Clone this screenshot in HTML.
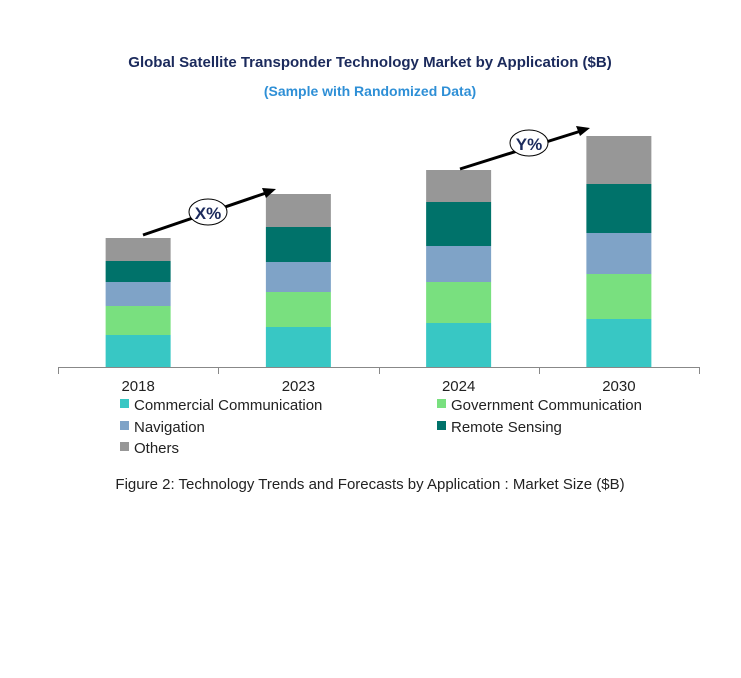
<!DOCTYPE html>
<html><head><meta charset="utf-8"><style>
body{margin:0;background:#fff;width:741px;height:673px;overflow:hidden}
svg text{font-family:"Liberation Sans",Arial,sans-serif}
</style></head><body>
<svg width="741" height="673">
<text x="370" y="67" text-anchor="middle" font-size="15" font-weight="bold" fill="#1b2a5c">Global Satellite  Transponder Technology Market by Application ($B)</text>
<text x="370" y="96" text-anchor="middle" font-size="14" font-weight="bold" fill="#2e8fd6">(Sample with Randomized Data)</text>
<g id="bars"></g>
<line x1="58" y1="367.5" x2="699" y2="367.5" stroke="#888" stroke-width="1"/>
<g id="ticks"></g>
<g>
<line x1="143" y1="235" x2="266" y2="193" stroke="#000" stroke-width="3"/>
<polygon points="276,189 262,188 266,198" fill="#000"/>
<ellipse cx="208" cy="212" rx="19" ry="13" fill="#fff" stroke="#000"/>
<text x="208" y="219" text-anchor="middle" font-size="17" font-weight="bold" fill="#1b2a5c">X%</text>
</g>
<g>
<line x1="460" y1="169" x2="581" y2="131" stroke="#000" stroke-width="3"/>
<polygon points="590,128 576,126 580,136" fill="#000"/>
<ellipse cx="529" cy="143" rx="19" ry="13" fill="#fff" stroke="#000"/>
<text x="529" y="150" text-anchor="middle" font-size="17" font-weight="bold" fill="#1b2a5c">Y%</text>
</g>
<g id="legend" font-size="15" fill="#222"></g>
<text x="370" y="489" text-anchor="middle" font-size="15" fill="#222">Figure 2: Technology  Trends  and Forecasts by Application : Market Size ($B)</text>
</svg>
<script>
const categories=["2018","2023","2024","2030"];
const seriesNames=["Commercial Communication","Government Communication","Navigation","Remote Sensing","Others"];
const colors=["#38c7c4","#79e07f","#7fa3c7","#00726a","#979797"];
const commercial=[3.2,4.0,4.4,4.8];
const government=[2.9,3.5,4.1,4.5];
const navigation=[2.4,3.0,3.6,4.1];
const remoteSensing=[2.1,3.5,4.4,4.9];
const others=[2.3,3.3,3.2,4.8];
const series=[commercial,government,navigation,remoteSensing,others];
const ns="http://www.w3.org/2000/svg";
const baseY=367, pxPerUnit=10, x0=58, x1=699, barW=65;
const band=(x1-x0)/categories.length;
const xCenter=i=>x0+band*(i+0.5);
const yScale=v=>v*pxPerUnit;
const bars=document.getElementById('bars');
categories.forEach((c,i)=>{
  let acc=0;
  series.forEach((s,k)=>{
    const r=document.createElementNS(ns,'rect');
    const h=yScale(s[i]);
    r.setAttribute('x',xCenter(i)-barW/2);
    r.setAttribute('y',baseY-yScale(acc)-h);
    r.setAttribute('width',barW);
    r.setAttribute('height',h);
    r.setAttribute('fill',colors[k]);
    
    
    bars.appendChild(r);
    acc+=s[i];
  });
});
const ticks=document.getElementById('ticks');
for(let i=0;i<=categories.length;i++){
  const l=document.createElementNS(ns,'line');
  const x=Math.round(x0+band*i)+0.5;
  l.setAttribute('x1',x);l.setAttribute('x2',x);l.setAttribute('y1',367);l.setAttribute('y2',374);
  l.setAttribute('stroke','#888');
  
  
  ticks.appendChild(l);
}
categories.forEach((c,i)=>{
  const t=document.createElementNS(ns,'text');
  t.setAttribute('x',xCenter(i));t.setAttribute('y',391);
  t.setAttribute('text-anchor','middle');t.setAttribute('font-size','15');t.setAttribute('fill','#222');
  t.textContent=c;
  
  
  ticks.appendChild(t);
});
const legend=document.getElementById('legend');
const pos=[[120,406],[437,406],[120,428],[437,428],[120,449]];
seriesNames.forEach((n,k)=>{
  const g=document.createElementNS(ns,'g');
  
  
  const r=document.createElementNS(ns,'rect');
  r.setAttribute('x',pos[k][0]);r.setAttribute('y',pos[k][1]-7);r.setAttribute('width',9);r.setAttribute('height',9);r.setAttribute('fill',colors[k]);
  const t=document.createElementNS(ns,'text');
  t.setAttribute('x',pos[k][0]+14);t.setAttribute('y',pos[k][1]+4);
  t.textContent=n;
  g.appendChild(r);g.appendChild(t);legend.appendChild(g);
});
</script>
</body></html>
